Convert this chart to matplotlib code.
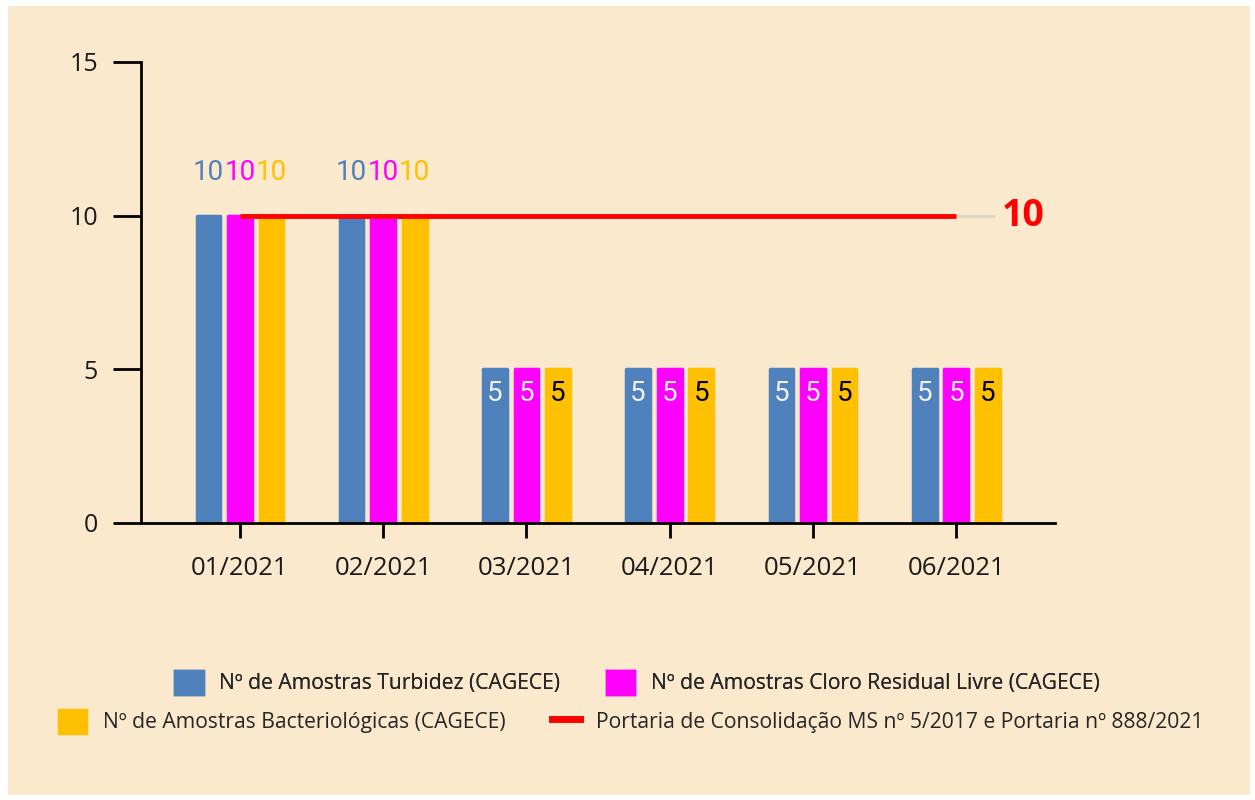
import matplotlib.pyplot as plt
import numpy as np
from matplotlib.patches import Rectangle
from matplotlib.lines import Line2D

plt.rcParams['font.family'] = ['Open Sans', 'DejaVu Sans']

meses = ['01/2021', '02/2021', '03/2021', '04/2021', '05/2021', '06/2021']
turbidez = [10, 10, 5, 5, 5, 5]
cloro = [10, 10, 5, 5, 5, 5]
bacterio = [10, 10, 5, 5, 5, 5]
portaria = [10, 10, 10, 10, 10, 10]

nomes = ['Nº de Amostras Turbidez (CAGECE)',
         'Nº de Amostras Cloro Residual Livre (CAGECE)',
         'Nº de Amostras Bacteriológicas (CAGECE)',
         'Portaria de Consolidação MS nº 5/2017 e Portaria nº 888/2021']
cores = ['#4F81BD', '#FF00FF', '#FFC000']
bg = '#FAE9CC'

fig = plt.figure(figsize=(12.55, 8), dpi=100, facecolor='white')
fig.patches.append(Rectangle((8 / 1255, 5 / 800), 1242 / 1255, 789 / 800,
                             transform=fig.transFigure, facecolor=bg,
                             edgecolor='none', zorder=-5))
ax = fig.add_axes([0.1124, 0.34625, 0.7283, 0.57625])
ax.set_facecolor('none')

x = np.arange(len(meses))
off = 0.22
w = 0.165
series = [turbidez, cloro, bacterio]
bars = []
for i, (vals, c) in enumerate(zip(series, cores)):
    b = ax.bar(x + (i - 1) * off, vals, w, color=c, edgecolor=c,
               linewidth=2.5, joinstyle='round', zorder=2)
    bars.append(b)

# rotulos de dados
for i, (vals, c) in enumerate(zip(series, cores)):
    for xi, v in zip(x, vals):
        xp = xi + (i - 1) * off
        if v >= 10:
            ax.text(xp, v + 1.4, str(v), ha='center', va='center', color=c,
                    fontsize=20, family=['Roboto', 'DejaVu Sans'], zorder=4)
        else:
            tc = 'black' if i == 2 else '#F2F2F2'
            ax.text(xp, v - 0.8, str(v), ha='center', va='center', color=tc,
                    fontsize=20, family=['Roboto', 'DejaVu Sans'], zorder=4)

ax.plot([x[-1], x[-1] + 0.27], [portaria[-1]] * 2, color='#E3D7C2',
        lw=2.5, zorder=1, solid_capstyle='butt')
ax.plot(x, portaria, color='#FF0000', lw=3.5, zorder=3,
        solid_capstyle='butt')
ax.annotate(str(portaria[-1]), (x[-1], portaria[-1]), xytext=(33, 0),
            textcoords='offset points', ha='left', va='center',
            color='#FF0000', fontsize=27, fontweight='bold')

ax.set_xlim(-0.69, 5.69)
ax.set_ylim(0, 15)
ax.set_yticks([0, 5, 10, 15])
ax.set_xticks(x)
ax.set_xticklabels(meses)
for s in ['top', 'right']:
    ax.spines[s].set_visible(False)
ax.spines['left'].set_linewidth(2)
ax.spines['bottom'].set_linewidth(2)
ax.tick_params(axis='y', length=20, width=2, labelsize=18, pad=11,
               labelcolor='#1A1A1A')
ax.tick_params(axis='x', direction='inout', length=21, width=2,
               labelsize=18.5, pad=13, labelcolor='#1A1A1A')

leg_kw = dict(loc='center', ncol=2, frameon=False, fontsize=15.2,
              handlelength=1.3, handleheight=1.3, handletextpad=0.8,
              columnspacing=2.2, labelcolor='#262626')
leg1 = fig.legend([bars[0], bars[1]], [nomes[0], nomes[1]],
                  bbox_to_anchor=(0.508, 0.147), **leg_kw)
fig.add_artist(leg1)
h2 = [bars[2], Line2D([], [], color='#FF0000', lw=5)]
fig.legend(h2, [nomes[2], nomes[3]], bbox_to_anchor=(0.503, 0.098),
           **leg_kw)

fig.savefig('out.png', dpi=100, facecolor='white')
